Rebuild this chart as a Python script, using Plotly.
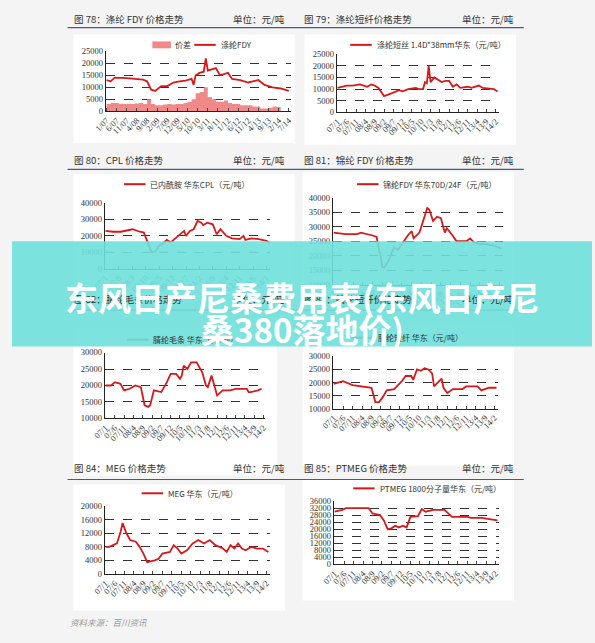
import plotly.graph_objects as go

W, H = 595, 643

# month index: 0 = 2007-01
fdy_m = [0, 2, 4, 6, 10, 14, 18, 20, 22, 24, 27, 30, 33, 36, 39, 42, 43, 44, 46, 48, 49, 50, 52, 54, 56, 58, 60, 62, 66, 70, 72, 75, 78, 80, 82, 86, 90]
fdy_v = [13000, 12500, 14000, 14000, 13800, 13500, 13200, 12500, 9000, 8500, 10500, 10500, 12000, 12500, 12800, 13500, 11000, 15000, 16000, 16500, 22000, 17000, 17500, 18000, 15000, 15500, 16000, 13500, 13000, 12000, 12500, 13000, 11000, 10500, 10000, 9500, 8500]
spread_m = list(range(0, 91, 2))
spread_v = [3000, 3500, 3500, 3200, 3000, 3200, 3000, 3300, 3500, 3000, 5000, 3000, 2500, 2500, 2800, 3000, 2800, 3000, 3000, 3500, 4000, 5000, 7500, 8000, 10000, 6000, 5000, 4000, 4000, 4500, 3500, 3000, 3000, 2500, 2500, 2500, 2000, 2000, 1200, 1200, 1500, 2000, 1800, 0, 0, 1500]

psf_m = [0, 2, 5, 8, 12, 16, 18, 20, 22, 25, 27, 30, 33, 35, 38, 42, 44, 46, 47, 48, 49, 50, 52, 54, 56, 58, 60, 62, 64, 66, 70, 72, 76, 78, 82, 84, 86]
psf_v = [10500, 11000, 11500, 11500, 12000, 11000, 12000, 11500, 10500, 7000, 7500, 8500, 9500, 9000, 10000, 10500, 10000, 10000, 13000, 12500, 20000, 13000, 15000, 14000, 13000, 13500, 13500, 11000, 12000, 10500, 11000, 10500, 11500, 10500, 10000, 10000, 9000]

cpl_m = [0, 4, 8, 14, 18, 20, 22, 24, 26, 28, 30, 32, 34, 38, 41, 42, 44, 46, 48, 50, 51, 53, 56, 58, 60, 63, 66, 70, 72, 73, 76, 80, 84, 86]
cpl_v = [23000, 22500, 22500, 24000, 22500, 22000, 16000, 10000, 10500, 14000, 15500, 17500, 16000, 20000, 23000, 20000, 23000, 24000, 29000, 28000, 26500, 28000, 27000, 21000, 24000, 20000, 18500, 18000, 20000, 17500, 18500, 18000, 17000, 15500]

nyl_m = [0, 6, 12, 14, 20, 22, 24, 25, 26, 28, 31, 33, 36, 38, 40, 41, 44, 46, 48, 49, 51, 53, 55, 57, 58, 61, 63, 66, 68, 70, 72, 75, 78, 82, 86]
nyl_v = [28000, 27500, 27500, 28000, 27000, 26500, 20000, 16000, 16000, 18000, 23000, 22000, 25000, 27000, 28500, 26000, 28000, 32000, 36500, 36000, 32000, 33500, 33000, 28000, 29500, 27000, 25000, 25000, 25000, 26000, 24500, 24000, 24000, 23500, 22500]

top_m = [0, 3, 5, 8, 10, 13, 16, 19, 21, 23, 24, 26, 30, 33, 35, 38, 40, 41, 42, 44, 46, 49, 52, 54, 55, 57, 59, 60, 63, 67, 70, 76, 77, 78, 82, 84]
top_v = [20000, 20000, 21000, 20500, 18500, 19000, 20000, 19500, 14000, 13500, 14000, 18500, 18000, 21000, 23500, 23500, 22000, 23000, 26000, 25000, 27000, 27000, 24000, 20000, 19500, 23000, 19000, 17000, 18500, 18500, 19000, 19000, 18000, 18000, 18500, 19000]

sf_m = [0, 5, 10, 15, 20, 22, 24, 26, 28, 32, 36, 38, 41, 42, 44, 46, 48, 50, 52, 53, 55, 57, 58, 60, 63, 68, 70, 76, 78, 82, 86]
sf_v = [19500, 20500, 19000, 18500, 18000, 12500, 12500, 14500, 17000, 17500, 20500, 22500, 22500, 21000, 25000, 24500, 25500, 25000, 23500, 18500, 20000, 21500, 18000, 16000, 17500, 17500, 18500, 18500, 17000, 18000, 18000]

meg_m = [0, 2, 4, 6, 8, 9, 11, 13, 16, 18, 20, 22, 26, 28, 30, 34, 36, 38, 40, 43, 46, 49, 52, 55, 58, 62, 64, 66, 68, 70, 72, 74, 77, 80, 83, 86]
meg_v = [8000, 8000, 8500, 9000, 12500, 15000, 12000, 10000, 9500, 8000, 6000, 3500, 4000, 4500, 6000, 6500, 8500, 7500, 6000, 7000, 9000, 10000, 9000, 10000, 8500, 7500, 6500, 8500, 7500, 9000, 7500, 7000, 8000, 7500, 7500, 6500]

ptm_m = [0, 4, 6, 12, 18, 20, 24, 26, 28, 30, 32, 34, 36, 38, 40, 44, 46, 48, 52, 58, 60, 62, 70, 72, 78, 80, 86]
ptm_v = [30000, 31000, 32000, 32000, 32000, 29000, 28000, 25000, 20000, 20500, 22000, 21000, 22000, 21000, 27000, 27500, 31500, 30000, 31000, 31000, 29000, 27000, 27000, 26500, 26500, 26000, 25000]

tk_a = ["1/07", "6/07", "11/07", "4/08", "9/08", "2/09", "7/09", "12/09", "5/10", "10/10", "3/11", "8/11", "1/12", "6/12", "11/12", "4/13", "9/13", "2/14", "7/14"]
tk_b = ["07/1", "07/6", "07/11", "08/4", "08/9", "09/2", "09/7", "09/12", "10/5", "10/10", "11/3", "11/8", "12/1", "12/6", "12/11", "13/4", "13/9", "14/2"]
tk_c = ["07/1", "07/8", "08/3", "08/10", "09/5", "09/12", "10/7", "11/2", "11/9", "12/4", "12/11", "13/6", "14/1"]

RED = "#d7191c"
SERIF = "Liberation Serif, Noto Sans CJK SC"
CJK = "Noto Sans CJK SC"

fig = go.Figure()
shapes, annos = [], []
lay = {}


def px(x):
    return x / W


def py(y):
    return 1 - y / H


def note(x, y, text, size, color="#333", anchor="left"):
    annos.append(dict(x=px(x), y=py(y), xref="paper", yref="paper", text=text, showarrow=False,
                      xanchor=anchor, yanchor="middle", font=dict(size=size, family=CJK, color=color)))


def panel(n, box, xr, tv, tt, yr, ydt):
    x0, y0, x1, y1 = box
    s = "" if n == 1 else str(n)
    lay["xaxis" + s] = dict(domain=[px(x0), px(x1)], range=xr, anchor="y" + s,
                            tickvals=tv, ticktext=tt, tickangle=-45, showline=True,
                            linecolor="#222", ticks="inside", ticklen=3, showgrid=False,
                            zeroline=False, tickfont=dict(size=8.5, family=SERIF, color="#333"))
    lay["yaxis" + s] = dict(domain=[py(y1), py(y0)], range=yr, anchor="x" + s, dtick=ydt,
                            tickformat="d", showline=True, linecolor="#222", showgrid=True,
                            gridcolor="#333", griddash="dash", gridwidth=0.8, zeroline=False,
                            ticks="", tickfont=dict(size=8.5, family=SERIF, color="#333"))


def line(n, xs, ys, w=1.8):
    s = "" if n == 1 else str(n)
    fig.add_trace(go.Scatter(x=xs, y=ys, mode="lines", line=dict(color=RED, width=w),
                             xaxis="x" + s, yaxis="y" + s, showlegend=False))


def header(x0, x1, y, title, unit):
    note(x0 + 5, y, title, 9.5)
    note(x1 - 8, y, unit, 9.5, anchor="right")


def legend(x, y, text):
    shapes.append(dict(type="line", xref="paper", yref="paper", x0=px(x), x1=px(x + 22),
                       y0=py(y), y1=py(y), line=dict(color=RED, width=2)))
    note(x + 25, y, text, 8)


# white panels
for b in [(63, 30, 290, 140), (300, 30, 517, 142), (63, 172, 290, 300), (298, 170, 515, 300),
          (63, 328, 272, 478), (298, 326, 515, 468), (63, 487, 280, 615), (298, 482, 515, 605)]:
    shapes.append(dict(type="rect", xref="paper", yref="paper", x0=px(b[0]), x1=px(b[2]),
                       y0=py(b[3]), y1=py(b[1]), fillcolor="white", line_width=0, layer="below"))
for y in [23, 167, 310, 482]:
    shapes.append(dict(type="line", xref="paper", yref="paper", x0=px(57), x1=px(525),
                       y0=py(y), y1=py(y), line=dict(color="#4a5a78", width=1.2)))

header(57, 290, 14, "图 78：涤纶 FDY 价格走势", "单位：元/吨")
header(293, 525, 14, "图 79：涤纶短纤价格走势", "单位：元/吨")
header(57, 290, 157, "图 80：CPL 价格走势", "单位：元/吨")
header(293, 525, 157, "图 81：锦纶 FDY 价格走势", "单位：元/吨")
header(57, 290, 299, "图 82：腈纶毛条价格走势", "单位：元/吨")
header(293, 525, 299, "图 83：腈纶短纤价格走势", "单位：元/吨")
header(57, 290, 470, "图 84：MEG 价格走势", "单位：元/吨")
header(293, 525, 470, "图 85：PTMEG 价格走势", "单位：元/吨")

# chart 78
panel(1, (96, 47, 286, 108), [-0.5, 91], list(range(0, 91, 5)), tk_a, [0, 25000], 5000)
fig.add_trace(go.Scatter(x=spread_m, y=spread_v, mode="lines", line=dict(width=0, shape="hv"),
                         fill="tozeroy", fillcolor="#f08a8a", xaxis="x", yaxis="y", showlegend=False))
line(1, fdy_m, fdy_v)
shapes.append(dict(type="rect", xref="paper", yref="paper", x0=px(144), x1=px(163),
                   y0=py(44), y1=py(37), fillcolor="#f08a8a", line_width=0))
note(165, 40.5, "价差", 8)
legend(187, 40.5, "涤纶FDY")

# chart 79
panel(2, (333, 50, 500, 109), [-0.5, 87], list(range(0, 86, 5)), tk_b, [0, 25000], 5000)
line(2, psf_m, psf_v)
legend(347, 40.5, "涤纶短丝 1.4D*38mm华东（元/吨）")

# chart 80
panel(3, (95, 201, 265, 268), [-0.5, 86], list(range(0, 85, 7)), tk_c, [0, 40000], 10000)
line(3, cpl_m, cpl_v)
legend(115, 182, "已内酰胺 华东CPL（元/吨）")

# chart 81
panel(4, (329, 196, 504, 284), [-0.5, 87], list(range(0, 86, 5)), tk_b, [10000, 40000], 5000)
line(4, nyl_m, nyl_v)
legend(354, 182, "锦纶FDY 华东70D/24F（元/吨）")

# chart 82
panel(5, (95, 353, 260, 420), [-0.5, 86], list(range(0, 86, 5)), tk_b, [10000, 30000], 5000)
line(5, top_m, top_v)
legend(118, 340, "腈纶毛条 华东（元/吨）")

# chart 83
panel(6, (329, 357, 499, 410), [-0.5, 87], list(range(0, 86, 5)), tk_b, [10000, 30000], 5000)
line(6, sf_m, sf_v)
legend(348, 338, "腈纶短纤 华东（元/吨）")

# chart 84
panel(7, (95, 509, 265, 578), [-0.5, 87], list(range(0, 86, 5)), tk_b, [0, 20000], 4000)
line(7, meg_m, meg_v)
legend(133, 496, "MEG 华东（元/吨）")

# chart 85
panel(8, (330, 504, 500, 568), [-0.5, 87], list(range(0, 86, 5)), tk_b, [0, 36000], 4000)
line(8, ptm_m, ptm_v)
legend(350, 491, "PTMEG 1800分子量华东（元/吨）")

note(57, 627, "<i>资料来源：百川资讯</i>", 8.5, color="#999")

# banner
shapes.append(dict(type="rect", xref="paper", yref="paper", x0=0, x1=1, y0=py(347), y1=py(240),
                   fillcolor="rgba(110,224,220,0.9)", line_width=0, layer="above"))
note(297.5, 297, "<b>东风日产尼桑费用表(东风日产尼</b>", 33, color="white", anchor="center")
note(297.5, 329, "<b>桑380落地价)</b>", 33, color="white", anchor="center")

fig.update_layout(autosize=True, margin=dict(l=0, r=0, t=0, b=0),
                  paper_bgcolor="#f4f4f4", plot_bgcolor="white", shapes=shapes,
                  annotations=annos, **lay)
fig.write_html("out.html", default_width="100vw", default_height="100vh",
               config=dict(displayModeBar=False, responsive=True),
               post_script="document.body.style.margin='0';document.body.style.overflow='hidden';")
